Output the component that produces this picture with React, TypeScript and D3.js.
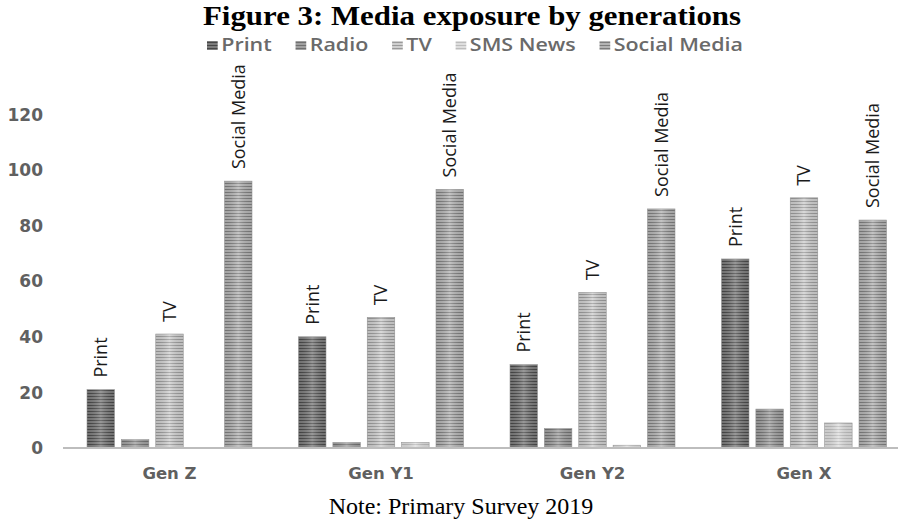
import React, { useEffect, useRef } from "react";
import * as d3 from "d3";

// Generations on the x axis
const generations = ["Gen Z", "Gen Y1", "Gen Y2", "Gen X"];
// Media channels (one bar each per generation)
const series = ["Print", "Radio", "TV", "SMS News", "Social Media"];
// Exposure values per channel, in generation order
const printValues = [21, 40, 30, 68];
const radioValues = [3, 2, 7, 14];
const tvValues = [41, 47, 56, 90];
const smsValues = [0, 2, 1, 9];
const socialValues = [96, 93, 86, 82];
// Channels that carry a rotated name label above their bars
const labelledSeries = ["Print", "TV", "Social Media"];
const yTicks = [0, 20, 40, 60, 80, 100, 120];

const titleText = "Figure 3: Media exposure by generations";
const noteText = "Note: Primary Survey 2019";

// Striped grey fills: [base, stripe]
const fills: Record<string, [string, string]> = {
  Print: ["#7c7c7c", "#474747"],
  Radio: ["#a0a0a0", "#707070"],
  TV: ["#cfcfcf", "#9a9a9a"],
  "SMS News": ["#dedede", "#bdbdbd"],
  "Social Media": ["#b4b4b4", "#7c7c7c"],
};

const W = 903;
const H = 519;

export default function App() {
  const ref = useRef<SVGSVGElement | null>(null);

  useEffect(() => {
    const svg = d3.select(ref.current);
    svg.selectAll("*").remove();

    const valuesBySeries: Record<string, number[]> = {
      Print: printValues,
      Radio: radioValues,
      TV: tvValues,
      "SMS News": smsValues,
      "Social Media": socialValues,
    };

    const defs = svg.append("defs");
    series.forEach((s, i) => {
      const [base, stripe] = fills[s];
      const p = defs
        .append("pattern")
        .attr("id", `stripe-${i}`)
        .attr("patternUnits", "userSpaceOnUse")
        .attr("width", 6)
        .attr("height", 3);
      p.append("rect").attr("width", 6).attr("height", 3).attr("fill", base);
      p.append("rect").attr("width", 6).attr("height", 1).attr("fill", stripe);
    });
    const shade = defs
      .append("linearGradient")
      .attr("id", "shade")
      .attr("x1", 0)
      .attr("x2", 1)
      .attr("y1", 0)
      .attr("y2", 0);
    shade.append("stop").attr("offset", 0).attr("stop-color", "#000").attr("stop-opacity", 0.08);
    shade.append("stop").attr("offset", 0.5).attr("stop-color", "#fff").attr("stop-opacity", 0.22);
    shade.append("stop").attr("offset", 1).attr("stop-color", "#000").attr("stop-opacity", 0.08);

    const x0 = d3.scaleBand<string>().domain(generations).range([64, 910]).padding(0);
    const x1 = d3
      .scaleBand<string>()
      .domain(series)
      .range([23, 188])
      .paddingInner(0.2)
      .paddingOuter(0);
    const y = d3.scaleLinear().domain([0, 120]).range([448, 114.4]);

    // Title
    svg
      .append("text")
      .attr("x", 203)
      .attr("y", 25)
      .attr("textLength", 538)
      .attr("lengthAdjust", "spacingAndGlyphs")
      .attr("font-family", "'Liberation Serif', 'Times New Roman', serif")
      .attr("font-weight", "bold")
      .attr("font-size", 28)
      .attr("fill", "#000")
      .text(titleText);

    // Legend
    const legend = svg
      .append("g")
      .attr("font-family", "'Open Sans', sans-serif")
      .attr("font-size", 18)
      .attr("font-weight", 600);
    const items = legend.selectAll("g").data(series).join("g");
    items
      .append("rect")
      .attr("width", 9)
      .attr("height", 9)
      .attr("y", -10)
      .attr("fill", (_, i) => `url(#stripe-${i})`);
    items
      .append("text")
      .attr("x", 12)
      .attr("fill", "#6a6a6a")
      .text((d) => d);
    const gap = 20;
    const widths: number[] = [];
    items.each(function () {
      const t = d3.select(this).select("text").node() as SVGTextElement;
      widths.push(12 + t.getComputedTextLength());
    });
    const total = d3.sum(widths) + gap * (widths.length - 1);
    let cursor = 0;
    items.attr("transform", (_, i) => {
      const tx = cursor;
      cursor += widths[i] + gap;
      return `translate(${tx},0)`;
    });
    const legendWidth = 536;
    legend.attr("transform", `translate(207,51) scale(${legendWidth / total},1)`);

    // Y tick labels
    svg
      .append("g")
      .selectAll("text")
      .data(yTicks)
      .join("text")
      .attr("x", 43)
      .attr("y", (d) => y(d))
      .attr("dy", "0.36em")
      .attr("text-anchor", "end")
      .attr("font-family", "'DejaVu Sans', Verdana, sans-serif")
      .attr("font-weight", "bold")
      .attr("font-size", 17)
      .attr("fill", "#606060")
      .text((d) => d);

    // Bars
    const groups = svg
      .append("g")
      .selectAll("g")
      .data(generations)
      .join("g")
      .attr("transform", (g) => `translate(${x0(g)},0)`);

    groups.each(function (g, gi) {
      const grp = d3.select(this);
      series.forEach((s, si) => {
        const v = valuesBySeries[s][gi];
        if (v <= 0) return;
        const bx = x1(s)!;
        const bw = x1.bandwidth();
        grp
          .append("rect")
          .attr("x", bx)
          .attr("y", y(v))
          .attr("width", bw)
          .attr("height", y(0) - y(v))
          .attr("fill", `url(#stripe-${si})`)
          .attr("stroke", "#9a9a9a")
          .attr("stroke-width", 0.6);
        grp
          .append("rect")
          .attr("x", bx)
          .attr("y", y(v))
          .attr("width", bw)
          .attr("height", y(0) - y(v))
          .attr("fill", "url(#shade)");
        if (labelledSeries.includes(s)) {
          const cx = bx + bw / 2;
          grp
            .append("text")
            .attr("transform", `translate(${cx},${y(v) - 12}) rotate(-90)`)
            .attr("dy", "0.36em")
            .attr("font-family", "'Open Sans', sans-serif")
            .attr("font-size", 18)
            .attr("font-weight", 500)
            .attr("fill", "#1a1a1a")
            .text(s);
        }
      });
    });

    // Baseline
    svg
      .append("line")
      .attr("x1", 63)
      .attr("x2", 898)
      .attr("y1", y(0))
      .attr("y2", y(0))
      .attr("stroke", "#bdbdbd")
      .attr("stroke-width", 2);

    // Category labels
    svg
      .append("g")
      .selectAll("text")
      .data(generations)
      .join("text")
      .attr("x", (g) => x0(g)! + 23 + 165 / 2)
      .attr("y", 479)
      .attr("text-anchor", "middle")
      .attr("font-family", "'DejaVu Sans', Verdana, sans-serif")
      .attr("font-weight", "bold")
      .attr("font-size", 16.5)
      .attr("fill", "#606060")
      .text((g) => g);

    // Source note
    svg
      .append("text")
      .attr("x", 461)
      .attr("y", 514)
      .attr("text-anchor", "middle")
      .attr("font-family", "'Liberation Serif', 'Times New Roman', serif")
      .attr("font-size", 24)
      .attr("fill", "#000")
      .text(noteText);
  }, []);

  return (
    <svg
      ref={ref}
      width={W}
      height={H}
      style={{ position: "absolute", left: 0, top: 0, background: "#fff" }}
    />
  );
}
